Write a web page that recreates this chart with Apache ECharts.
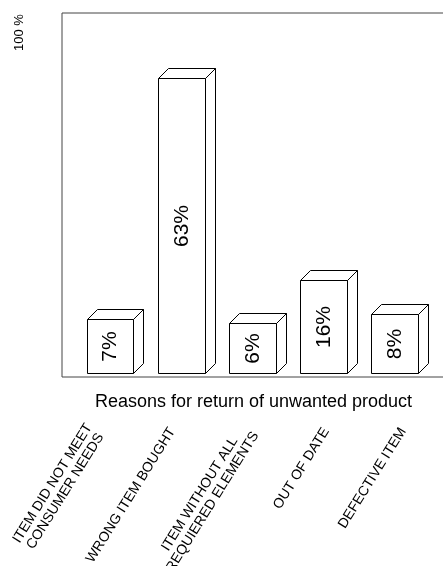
<!DOCTYPE html>
<html>
<head>
<meta charset="utf-8">
<script src="https://cdn.jsdelivr.net/npm/echarts@6/dist/echarts.min.js"></script>
<style>
  html, body { margin: 0; padding: 0; background: #fff; }
  #chart { width: 443px; height: 566px; }
</style>
</head>
<body>
<div id="chart"></div>
<script>
// Reasons for returning unwanted products (share of returns, %)
const categories = [
  'ITEM DID NOT MEET\nCONSUMER NEEDS',
  'WRONG ITEM BOUGHT',
  'ITEM WITHOUT ALL\nREQUIERED ELEMENTS',
  'OUT OF DATE',
  'DEFECTIVE ITEM'
];
const shares = [7, 63, 6, 16, 8];
const axisTitle = 'Reasons for return of unwanted product';
const scaleTitle = '100 %';

// value scale of the bar panel (boxes stand on a plinth below zero)
const Y_MIN = -6.56;
const Y_MAX = 78.09;
const FLOOR = -5.63;

const FONT = '"Liberation Sans", Arial, Helvetica, sans-serif';
const LABEL_SIZE = 14;

// centre the lines of multi-line category labels on each other
const measureCtx = document.createElement('canvas').getContext('2d');
measureCtx.font = LABEL_SIZE + 'px ' + FONT;
const rich = {};
const labelText = categories.map((c, ci) => {
  const lines = c.split('\n');
  if (lines.length === 1) return c;
  const widths = lines.map(l => measureCtx.measureText(l).width);
  const maxW = Math.max(...widths);
  return lines.map((l, li) => {
    const key = 'c' + ci + 'l' + li;
    rich[key] = {
      fontSize: LABEL_SIZE, fontFamily: FONT, color: '#000', lineHeight: 15,
      padding: [0, (maxW - widths[li]) / 2, 0, 0]
    };
    return '{' + key + '|' + l + '}';
  }).join('\n');
});

function renderBox(params, api) {
  const i = api.value(0);
  const v = api.value(1);
  const top = api.coord([i, v]);
  const base = api.coord([i, FLOOR]);
  const w = api.size([1, 0])[0] * 0.66;
  const d = 10;
  const xl = Math.round(top[0] - w / 2) + 0.5;
  const xr = Math.round(top[0] + w / 2) + 0.5;
  const yt = Math.round(top[1]) + 0.5;
  const yb = Math.round(base[1]) + 0.5;
  const st = { fill: '#fff', stroke: '#000', lineWidth: 1 };
  return {
    type: 'group',
    children: [
      { type: 'polygon', shape: { points: [[xr, yt], [xr + d, yt - d], [xr + d, yb - d], [xr, yb]] }, style: st },
      { type: 'polygon', shape: { points: [[xl, yt], [xl + d, yt - d], [xr + d, yt - d], [xr, yt]] }, style: st },
      { type: 'rect', shape: { x: xl, y: yt, width: xr - xl, height: yb - yt }, style: st },
      {
        type: 'text',
        x: (xl + xr) / 2,
        y: (yt + yb) / 2,
        rotation: Math.PI / 2,
        style: {
          text: v + '%', fontSize: 21, fontFamily: FONT, fill: '#000',
          align: 'center', verticalAlign: 'middle'
        }
      }
    ]
  };
}

const chart = echarts.init(document.getElementById('chart'), null, { renderer: 'canvas' });
chart.setOption({
  animation: false,
  backgroundColor: '#fff',
  grid: [
    { left: 62, right: -2, top: 13, bottom: 189, show: true, borderColor: '#444', borderWidth: 1, backgroundColor: 'transparent', outerBoundsMode: 'none' },
    { left: 57, right: 1.5, top: 13, bottom: 189, show: false, outerBoundsMode: 'none' }
  ],
  xAxis: [
    {
      type: 'value', gridIndex: 0, min: -0.675, max: 4.712,
      axisLine: { show: false }, axisTick: { show: false },
      axisLabel: { show: false }, splitLine: { show: false },
      name: axisTitle, nameLocation: 'middle', nameGap: 16, nameMoveOverlap: false,
      nameTextStyle: { fontSize: 18, fontFamily: FONT, color: '#000' }
    },
    {
      type: 'category', gridIndex: 1, data: labelText, boundaryGap: true,
      axisLine: { show: false }, axisTick: { show: false }, splitLine: { show: false },
      axisLabel: {
        interval: 0, rotate: 58, margin: 52,
        fontSize: LABEL_SIZE, fontFamily: FONT, color: '#000', lineHeight: 15,
        rich: rich
      }
    }
  ],
  yAxis: [
    {
      type: 'value', gridIndex: 0, min: Y_MIN, max: Y_MAX,
      axisLine: { show: false }, axisTick: { show: false },
      axisLabel: { show: false }, splitLine: { show: false }
    },
    {
      type: 'value', gridIndex: 1, show: false
    }
  ],
  graphic: [
    {
      type: 'text', x: 19, y: 32.5, rotation: Math.PI / 2,
      style: { text: scaleTitle, fontSize: 13, fontFamily: FONT, fill: '#000', align: 'center', verticalAlign: 'middle' }
    }
  ],
  series: [
    {
      type: 'custom',
      xAxisIndex: 0, yAxisIndex: 0,
      renderItem: renderBox,
      clip: false,
      data: shares.map((v, i) => [i, v])
    }
  ]
});
</script>
</body>
</html>
